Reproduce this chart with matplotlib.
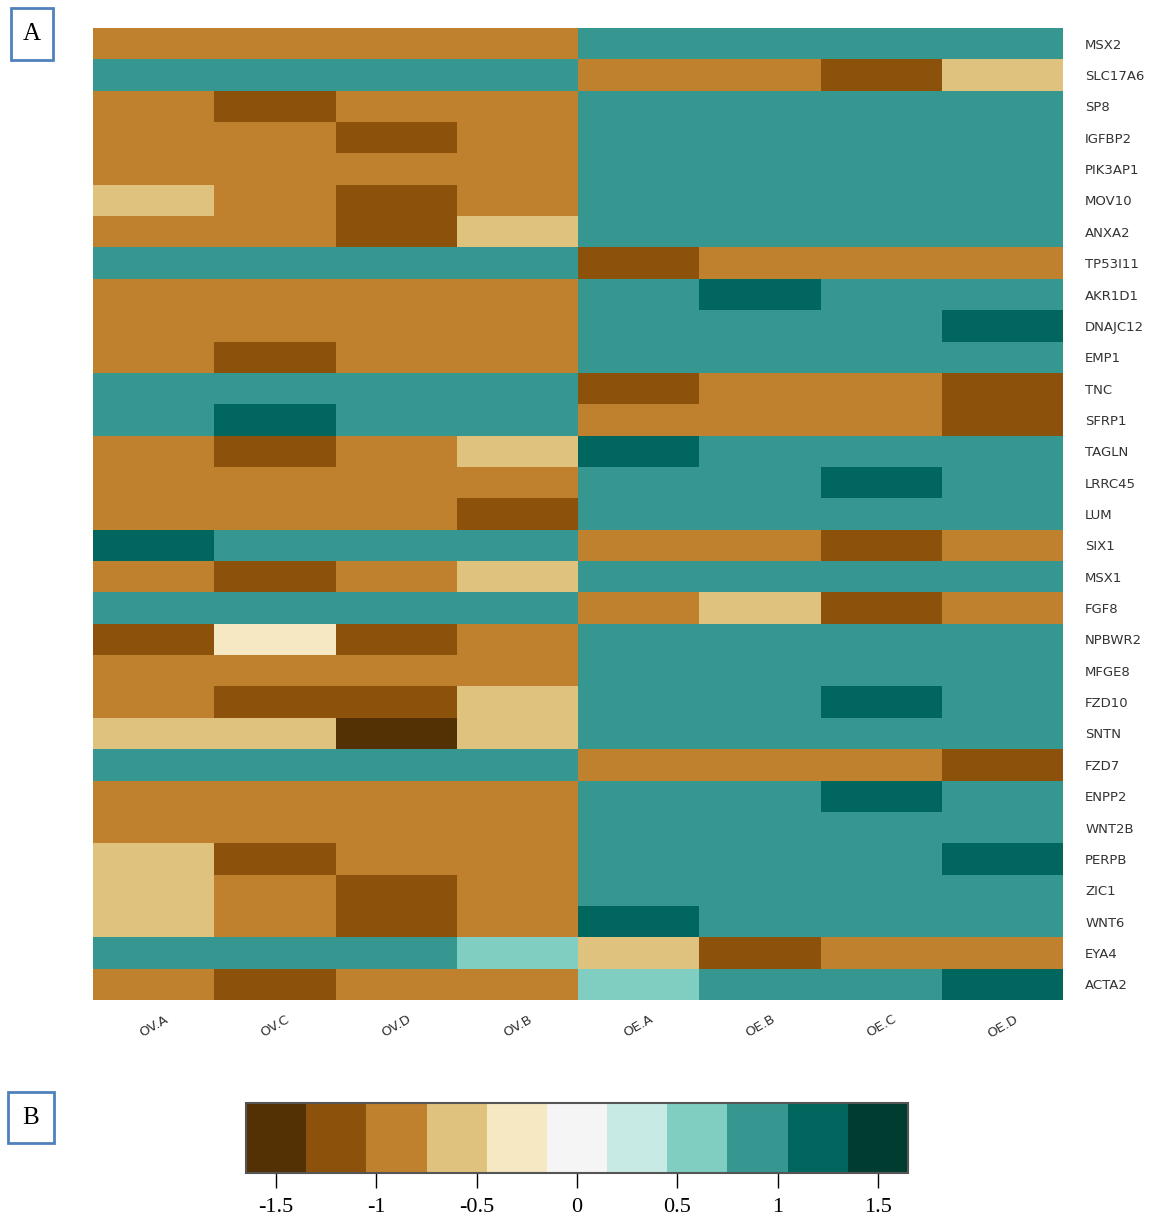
import numpy as np
import matplotlib as mpl
mpl.use('Agg')
import matplotlib.pyplot as plt
from matplotlib.colors import BoundaryNorm
from matplotlib.patches import Rectangle

genes = ['MSX2', 'SLC17A6', 'SP8', 'IGFBP2', 'PIK3AP1', 'MOV10', 'ANXA2', 'TP53I11',
         'AKR1D1', 'DNAJC12', 'EMP1', 'TNC', 'SFRP1', 'TAGLN', 'LRRC45', 'LUM', 'SIX1',
         'MSX1', 'FGF8', 'NPBWR2', 'MFGE8', 'FZD10', 'SNTN', 'FZD7', 'ENPP2', 'WNT2B',
         'PERPB', 'ZIC1', 'WNT6', 'EYA4', 'ACTA2']
samples = ['OV.A', 'OV.C', 'OV.D', 'OV.B', 'OE.A', 'OE.B', 'OE.C', 'OE.D']

# values (bin centres of the 11-step scale)
values = [
    [-0.9, -0.9, -0.9, -0.9, 0.9, 0.9, 0.9, 0.9],
    [0.9, 0.9, 0.9, 0.9, -0.9, -0.9, -1.2, -0.6],
    [-0.9, -1.2, -0.9, -0.9, 0.9, 0.9, 0.9, 0.9],
    [-0.9, -0.9, -1.2, -0.9, 0.9, 0.9, 0.9, 0.9],
    [-0.9, -0.9, -0.9, -0.9, 0.9, 0.9, 0.9, 0.9],
    [-0.6, -0.9, -1.2, -0.9, 0.9, 0.9, 0.9, 0.9],
    [-0.9, -0.9, -1.2, -0.6, 0.9, 0.9, 0.9, 0.9],
    [0.9, 0.9, 0.9, 0.9, -1.2, -0.9, -0.9, -0.9],
    [-0.9, -0.9, -0.9, -0.9, 0.9, 1.2, 0.9, 0.9],
    [-0.9, -0.9, -0.9, -0.9, 0.9, 0.9, 0.9, 1.2],
    [-0.9, -1.2, -0.9, -0.9, 0.9, 0.9, 0.9, 0.9],
    [0.9, 0.9, 0.9, 0.9, -1.2, -0.9, -0.9, -1.2],
    [0.9, 1.2, 0.9, 0.9, -0.9, -0.9, -0.9, -1.2],
    [-0.9, -1.2, -0.9, -0.6, 1.2, 0.9, 0.9, 0.9],
    [-0.9, -0.9, -0.9, -0.9, 0.9, 0.9, 1.2, 0.9],
    [-0.9, -0.9, -0.9, -1.2, 0.9, 0.9, 0.9, 0.9],
    [1.2, 0.9, 0.9, 0.9, -0.9, -0.9, -1.2, -0.9],
    [-0.9, -1.2, -0.9, -0.6, 0.9, 0.9, 0.9, 0.9],
    [0.9, 0.9, 0.9, 0.9, -0.9, -0.6, -1.2, -0.9],
    [-1.2, -0.3, -1.2, -0.9, 0.9, 0.9, 0.9, 0.9],
    [-0.9, -0.9, -0.9, -0.9, 0.9, 0.9, 0.9, 0.9],
    [-0.9, -1.2, -1.2, -0.6, 0.9, 0.9, 1.2, 0.9],
    [-0.6, -0.6, -1.5, -0.6, 0.9, 0.9, 0.9, 0.9],
    [0.9, 0.9, 0.9, 0.9, -0.9, -0.9, -0.9, -1.2],
    [-0.9, -0.9, -0.9, -0.9, 0.9, 0.9, 1.2, 0.9],
    [-0.9, -0.9, -0.9, -0.9, 0.9, 0.9, 0.9, 0.9],
    [-0.6, -1.2, -0.9, -0.9, 0.9, 0.9, 0.9, 1.2],
    [-0.6, -0.9, -1.2, -0.9, 0.9, 0.9, 0.9, 0.9],
    [-0.6, -0.9, -1.2, -0.9, 1.2, 0.9, 0.9, 0.9],
    [0.9, 0.9, 0.9, 0.6, -0.6, -1.2, -0.9, -0.9],
    [-0.9, -1.2, -0.9, -0.9, 0.6, 0.9, 0.9, 1.2],
]
cbar_ticks = [-1.5, -1, -0.5, 0, 0.5, 1, 1.5]
cbar_labels = ['-1.5', '-1', '-0.5', '0', '0.5', '1', '1.5']

data = np.array(values)
cmap = plt.get_cmap('BrBG', 11)
bounds = np.linspace(-1.65, 1.65, 12)
norm = BoundaryNorm(bounds, cmap.N)

fig = plt.figure(figsize=(11.58, 12.17), dpi=100)

ax = fig.add_axes([93/1158, 1-1000/1217, 970/1158, 972/1217])
mesh = ax.pcolormesh(data, cmap=cmap, norm=norm)
ax.set_xlim(0, len(samples))
ax.set_ylim(len(genes), 0)
for s in ax.spines.values():
    s.set_visible(False)
ax.yaxis.tick_right()
ax.set_yticks(np.arange(len(genes)) + 0.5)
ax.set_yticklabels(genes, fontsize=9.5, color='#333333', family='DejaVu Sans')
ax.set_xticks(np.arange(len(samples)) + 0.5)
ax.set_xticklabels(samples, rotation=30, fontsize=9.5, color='#333333', family='DejaVu Sans')
ax.tick_params(axis='y', length=0, pad=16)
ax.tick_params(axis='x', length=0, pad=9)

##colour bar
cax = fig.add_axes([246/1158, 1-1173/1217, 662/1158, 70/1217])
cb = fig.colorbar(mesh, cax=cax, orientation='horizontal', ticks=cbar_ticks)
cb.ax.minorticks_off()
cb.ax.set_xticklabels(cbar_labels, family='Liberation Serif', fontsize=16)
cb.ax.tick_params(length=11, width=1, pad=7)
cb.outline.set_edgecolor('#555555')
cb.outline.set_linewidth(1.5)

# panel letters
for (x0, y0, w, h, letter) in [(11, 8, 42, 52, 'A'), (8, 1092, 46, 51, 'B')]:
    fig.patches.append(Rectangle((x0/1158, 1-(y0+h)/1217), w/1158, h/1217,
                                 transform=fig.transFigure, fill=False,
                                 edgecolor='#4f81bd', linewidth=2))
    fig.text((x0 + w/2)/1158, 1-(y0 + h/2)/1217, letter, ha='center', va='center',
             fontsize=18, family='Liberation Serif')

fig.savefig('out.png', dpi=100)
